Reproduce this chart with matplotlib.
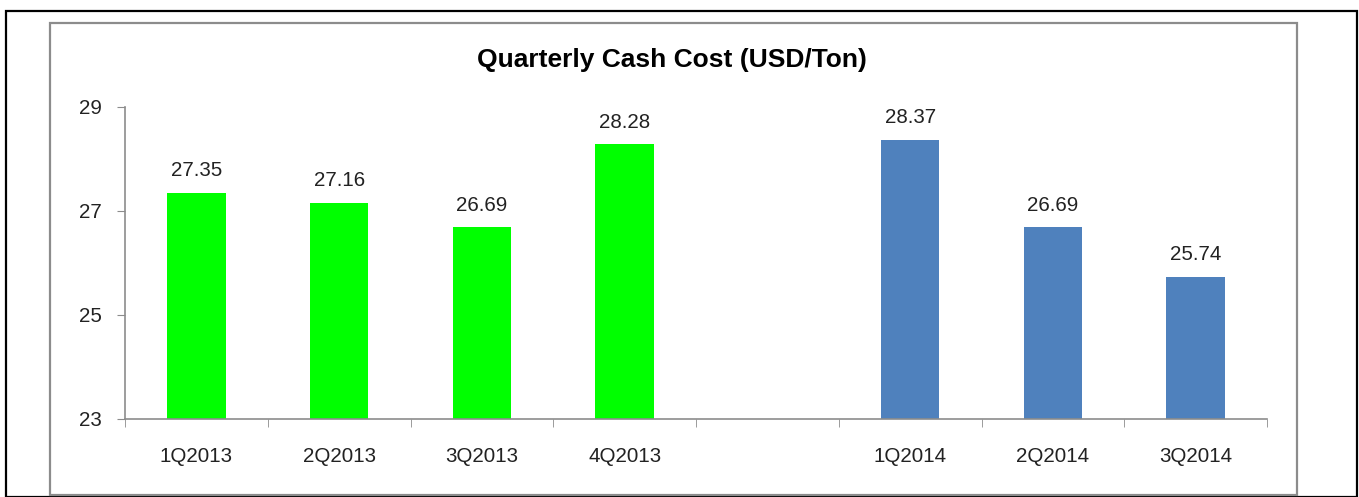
import matplotlib.pyplot as plt
from matplotlib.patches import Rectangle

plt.rcParams['font.family'] = ['Liberation Sans', 'DejaVu Sans']

quarters = ["1Q2013", "2Q2013", "3Q2013", "4Q2013", "", "1Q2014", "2Q2014", "3Q2014"]
cost_2013 = [27.35, 27.16, 26.69, 28.28]
cost_2014 = [28.37, 26.69, 25.74]
yticks = [23, 25, 27, 29]

W, H = 1359, 497
fig = plt.figure(figsize=(W / 100, H / 100), dpi=100)

# outer black frame and grey chart-area frame
fig.patches.append(Rectangle((6 / W, 0), 1351 / W, 1 - 11 / H, transform=fig.transFigure,
                             fill=False, edgecolor="black", linewidth=1.6))
fig.patches.append(Rectangle((50 / W, 1 - 495 / H), 1247 / W, 472 / H, transform=fig.transFigure,
                             fill=False, edgecolor="#8c8c8c", linewidth=1.6))

ax = fig.add_axes([125 / W, 1 - 419 / H, 1142 / W, 312 / H])

x13 = list(range(len(cost_2013)))
x14 = [5, 6, 7]
ax.bar(x13, cost_2013, width=0.41, color="#00ff00")
ax.bar(x14, cost_2014, width=0.41, color="#4f81bd")

for xs, vals in [(x13, cost_2013), (x14, cost_2014)]:
    for x, v in zip(xs, vals):
        ax.annotate(f"{v:.2f}", (x, v), xytext=(0, 9), textcoords="offset points",
                    ha="center", va="bottom", fontsize=14.8, color="#222222")

ax.set_ylim(23, 29)
ax.set_xlim(-0.5, 7.5)
ax.set_yticks(yticks)
ax.set_xticks(range(len(quarters)))
ax.set_xticklabels(quarters)
ax.set_xticks([i - 0.5 for i in range(len(quarters) + 1)], minor=True)
ax.tick_params(axis="x", which="major", length=0, pad=20, labelsize=14.8, colors="#222222")
ax.tick_params(axis="x", which="minor", length=6, color="#8c8c8c", direction="out")
ax.tick_params(axis="y", length=6, color="#8c8c8c", labelsize=14.8, pad=10.5, labelcolor="#222222")

for s in ["top", "right"]:
    ax.spines[s].set_visible(False)
for s in ["left", "bottom"]:
    ax.spines[s].set_color("#8c8c8c")
    ax.spines[s].set_linewidth(1.2)

fig.text(672 / W, 1 - 60 / H, "Quarterly Cash Cost (USD/Ton)", ha="center", va="center",
         fontsize=19, fontweight="bold")

fig.savefig("out.png", dpi=100)
